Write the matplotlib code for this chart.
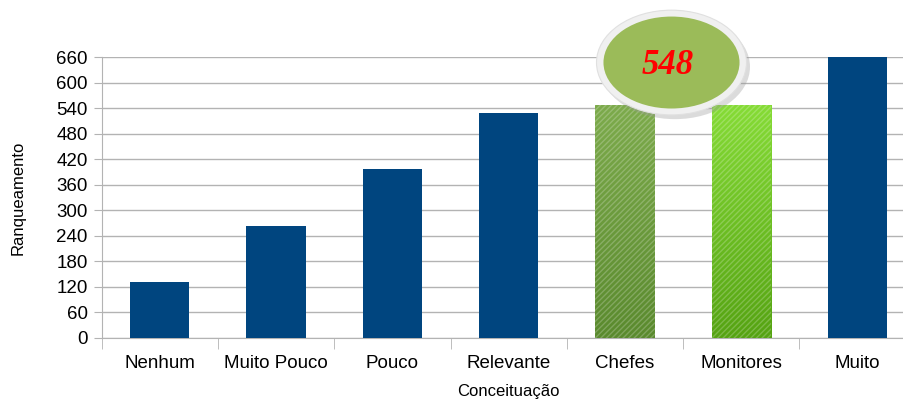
import numpy as np
import matplotlib.pyplot as plt
from matplotlib.patches import Ellipse

categorias = ['Nenhum', 'Muito Pouco', 'Pouco', 'Relevante', 'Chefes', 'Monitores', 'Muito']
valores = [132, 264, 396, 528, 548, 548, 660]
yticks = list(range(0, 661, 60))

plt.rcParams['font.family'] = ['Liberation Sans', 'DejaVu Sans']

fig = plt.figure(figsize=(9.04, 4.01), dpi=100)
ax = fig.add_axes([101.7 / 904, 63 / 401, 814 / 904, 281 / 401])

x = np.arange(len(categorias))
cores = ['#00457f'] * len(categorias)
cores[4] = 'none'
cores[5] = 'none'
bars = ax.bar(x, valores, width=0.51, color=cores, zorder=3)

# gradient fills for the two highlighted bars
grad = np.linspace(0, 1, 256).reshape(-1, 1)
for i, (c_top, c_bot) in {4: ('#7dab4c', '#5a8a2e'), 5: ('#86dc36', '#55a312')}.items():
    b = bars[i]
    cmap = plt.matplotlib.colors.LinearSegmentedColormap.from_list('g', [c_bot, c_top])
    im = ax.imshow(grad, cmap=cmap, aspect='auto', origin='lower',
                   extent=[b.get_x(), b.get_x() + b.get_width(), 0, b.get_height()], zorder=3)
    im.set_clip_path(b)
    ax.bar(x[i], valores[i], width=0.51, color='none', edgecolor=(1, 1, 1, 0.22),
           hatch='//////', linewidth=0, zorder=4)

ax.set_xlim(-0.5, len(categorias) - 0.5)
ax.set_ylim(0, 660)
ax.set_yticks(yticks)
ax.set_xticks(x)
ax.set_xticklabels(categorias, fontsize=13.5)
ax.set_xticks(np.arange(-0.5, len(categorias), 1), minor=True)
ax.tick_params(axis='x', which='major', length=0, pad=12)
ax.tick_params(axis='x', which='minor', length=8, color='#b3b3b3')
ax.tick_params(axis='y', length=6, color='#b3b3b3', labelsize=13.5, pad=4)
ax.grid(axis='y', color='#b3b3b3', linewidth=1, zorder=0)
for s in ['top', 'right']:
    ax.spines[s].set_visible(False)
for s in ['left', 'bottom']:
    ax.spines[s].set_color('#b3b3b3')
ax.set_ylabel('Ranqueamento', fontsize=12, labelpad=22)
ax.set_xlabel('Conceituação', fontsize=12, labelpad=9)

# highlight bubble
cx, cy = 4.40, 647
ax.add_patch(Ellipse((cx + 0.03, cy - 10), 1.29, 246, facecolor='#999999', alpha=0.35,
                     clip_on=False, zorder=5))
ax.add_patch(Ellipse((cx, cy), 1.29, 246, facecolor='#f0f0f0', edgecolor='#e0e0e0',
                     linewidth=0.8, clip_on=False, zorder=6))
ax.add_patch(Ellipse((cx, cy), 1.17, 216, facecolor='#9bbb59', clip_on=False, zorder=7))
ax.text(cx - 0.03, cy - 6, str(valores[4]), color='#ff0000', fontsize=25, fontweight='bold',
        fontstyle='italic', family='Liberation Serif', ha='center', va='center', zorder=8)

fig.savefig('out.png', dpi=100)
